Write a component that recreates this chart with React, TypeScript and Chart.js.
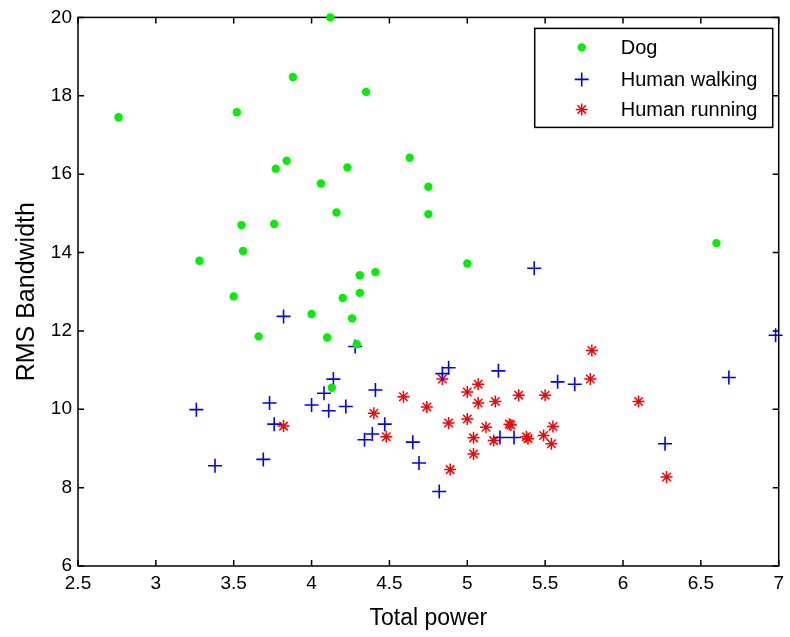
import React, { useEffect, useRef } from "react";
import { Chart, registerables } from "chart.js";

Chart.register(...registerables);

const FONT = "'Liberation Sans', Arial, Helvetica, sans-serif";

const seriesNames = ["Dog", "Human walking", "Human running"];

const dogPower = [2.76, 3.52, 3.88, 3.84, 3.77, 4.06, 4.12, 4.35, 4.63, 4.23, 4.75, 3.55, 3.76, 3.56, 3.28, 3.5, 4.0, 3.66, 4.1, 4.16, 4.75, 5.0, 4.31, 4.41, 4.31, 4.2, 4.26, 4.29, 4.13, 6.6];
const dogBandwidth = [17.45, 17.58, 18.48, 16.34, 16.14, 15.76, 20.0, 18.1, 16.42, 16.17, 15.68, 14.7, 14.73, 14.04, 13.79, 12.88, 12.43, 11.86, 11.83, 15.02, 14.98, 13.72, 13.42, 13.5, 12.97, 12.84, 12.32, 11.66, 10.55, 14.24];

const walkPower = [3.82, 5.43, 4.28, 4.14, 4.88, 4.84, 5.2, 4.41, 3.26, 3.38, 3.73, 3.76, 3.69, 4.0, 4.08, 4.11, 4.22, 4.47, 4.39, 4.34, 4.65, 4.69, 4.82, 5.21, 5.3, 5.58, 5.69, 6.27, 6.68, 6.98];
const walkBandwidth = [12.37, 13.6, 11.6, 10.77, 11.06, 10.91, 10.98, 10.49, 9.99, 8.56, 10.16, 9.62, 8.72, 10.11, 10.41, 9.96, 10.07, 9.62, 9.37, 9.22, 9.16, 8.63, 7.9, 9.28, 9.28, 10.7, 10.64, 9.12, 10.81, 11.89];

const runPower = [3.82, 4.59, 4.4, 4.48, 4.74, 4.84, 4.88, 4.89, 5.0, 5.07, 5.07, 5.0, 5.04, 5.04, 5.12, 5.18, 5.17, 5.27, 5.28, 5.33, 5.38, 5.39, 5.49, 5.5, 5.8, 5.79, 6.1, 6.28, 5.55, 5.54];
const runBandwidth = [9.57, 10.32, 9.9, 9.3, 10.06, 10.77, 9.65, 8.46, 10.44, 10.64, 10.16, 9.75, 9.27, 8.86, 9.54, 10.2, 9.2, 9.62, 9.6, 10.36, 9.3, 9.25, 9.33, 10.36, 11.5, 10.77, 10.2, 8.27, 9.56, 9.12];

const xTicks = [2.5, 3, 3.5, 4, 4.5, 5, 5.5, 6, 6.5, 7];
const yTicks = [6, 8, 10, 12, 14, 16, 18, 20];

const toPoints = (xs: number[], ys: number[]) => xs.map((x, i) => ({ x, y: ys[i] }));

const boxPlugin = {
  id: "matlabBox",
  beforeDatasetsDraw(chart: any) {
    const { ctx, chartArea } = chart;
    const { left, right, top, bottom } = chartArea;
    const xs = chart.scales.x;
    const ys = chart.scales.y;
    ctx.save();
    ctx.strokeStyle = "#000";
    ctx.lineWidth = 1.5;
    ctx.strokeRect(left, top, right - left, bottom - top);
    const tl = 6;
    ctx.beginPath();
    xTicks.forEach((v) => {
      const px = xs.getPixelForValue(v);
      ctx.moveTo(px, bottom);
      ctx.lineTo(px, bottom - tl);
      ctx.moveTo(px, top);
      ctx.lineTo(px, top + tl);
    });
    yTicks.forEach((v) => {
      const py = ys.getPixelForValue(v);
      ctx.moveTo(left, py);
      ctx.lineTo(left + tl, py);
      ctx.moveTo(right, py);
      ctx.lineTo(right - tl, py);
    });
    ctx.stroke();
    ctx.restore();
  },
};

const legendPlugin = {
  id: "insideLegend",
  afterDraw(chart: any) {
    const { ctx, chartArea } = chart;
    const w = 238;
    const h = 99;
    const bx = chartArea.right - 6 - w;
    const by = chartArea.top + 11;
    ctx.save();
    ctx.fillStyle = "#fff";
    ctx.fillRect(bx, by, w, h);
    ctx.strokeStyle = "#000";
    ctx.lineWidth = 1.5;
    ctx.strokeRect(bx, by, w, h);
    const mx = bx + 47;
    const tx = bx + 86;
    const rows = [by + 19, by + 51, by + 81];
    chart.data.datasets.forEach((ds: any, i: number) => {
      const y = rows[i];
      ctx.save();
      if (ds.pointStyle === "circle") {
        ctx.fillStyle = ds.backgroundColor;
        ctx.beginPath();
        ctx.arc(mx, y, ds.pointRadius, 0, Math.PI * 2);
        ctx.fill();
      } else {
        ctx.strokeStyle = ds.borderColor;
        ctx.lineWidth = ds.borderWidth;
        const r = ds.pointRadius;
        ctx.beginPath();
        ctx.moveTo(mx - r, y);
        ctx.lineTo(mx + r, y);
        ctx.moveTo(mx, y - r);
        ctx.lineTo(mx, y + r);
        if (ds.pointStyle === "star") {
          const d = r * Math.SQRT1_2;
          ctx.moveTo(mx - d, y - d);
          ctx.lineTo(mx + d, y + d);
          ctx.moveTo(mx - d, y + d);
          ctx.lineTo(mx + d, y - d);
        }
        ctx.stroke();
      }
      ctx.restore();
      ctx.fillStyle = "#000";
      ctx.font = `20px ${FONT}`;
      ctx.textAlign = "left";
      ctx.textBaseline = "middle";
      ctx.fillText(ds.label, tx, y + 1);
    });
    ctx.restore();
  },
};

export default function App() {
  const ref = useRef<HTMLCanvasElement | null>(null);

  useEffect(() => {
    if (!ref.current) return;
    const chart = new Chart(ref.current, {
      type: "scatter",
      data: {
        datasets: [
          {
            label: seriesNames[0],
            data: toPoints(dogPower, dogBandwidth),
            pointStyle: "circle",
            pointRadius: 4.2,
            backgroundColor: "#00f000",
            borderColor: "#00f000",
            borderWidth: 0,
            clip: false,
          },
          {
            label: seriesNames[1],
            data: toPoints(walkPower, walkBandwidth),
            pointStyle: "cross",
            pointRadius: 7,
            backgroundColor: "#0000ff",
            borderColor: "#0000ff",
            borderWidth: 1.6,
            clip: false,
          },
          {
            label: seriesNames[2],
            data: toPoints(runPower, runBandwidth),
            pointStyle: "star",
            pointRadius: 6,
            backgroundColor: "#ff0000",
            borderColor: "#ff0000",
            borderWidth: 1.5,
            clip: false,
          },
        ],
      } as any,
      options: {
        animation: false,
        responsive: false,
        events: [],
        layout: { padding: { top: 15, right: 10, left: 0, bottom: 0 } },
        plugins: { legend: { display: false }, tooltip: { enabled: false } },
        scales: {
          x: {
            type: "linear",
            position: "bottom",
            min: 2.5,
            max: 7,
            grid: { display: false, drawTicks: false },
            border: { display: false },
            afterBuildTicks: (s: any) => {
              s.ticks = xTicks.map((v) => ({ value: v }));
            },
            afterFit: (s: any) => {
              s.height = 71;
            },
            ticks: {
              padding: 6,
              color: "#000",
              font: { family: FONT, size: 19 },
              maxRotation: 0,
              autoSkip: false,
              callback: (v: any) => String(v),
            },
            title: {
              display: true,
              text: "Total power",
              color: "#000",
              font: { family: FONT, size: 23 },
              padding: { top: 0, bottom: 5 },
            },
          },
          y: {
            type: "linear",
            position: "left",
            min: 6,
            max: 20,
            grid: { display: false, drawTicks: false },
            border: { display: false },
            afterBuildTicks: (s: any) => {
              s.ticks = yTicks.map((v) => ({ value: v }));
            },
            afterFit: (s: any) => {
              s.width = 78;
            },
            ticks: {
              padding: 6,
              color: "#000",
              font: { family: FONT, size: 19 },
              autoSkip: false,
              callback: (v: any) => String(v),
            },
            title: {
              display: true,
              text: "RMS Bandwidth",
              color: "#000",
              font: { family: FONT, size: 25 },
              padding: { top: 12, bottom: 0 },
            },
          },
        },
      } as any,
      plugins: [boxPlugin, legendPlugin],
    });
    return () => chart.destroy();
  }, []);

  return (
    <div style={{ position: "fixed", left: 0, top: 0, width: 790, height: 637, background: "#fff" }}>
      <canvas ref={ref} width={790} height={637} style={{ display: "block" }} />
    </div>
  );
}
